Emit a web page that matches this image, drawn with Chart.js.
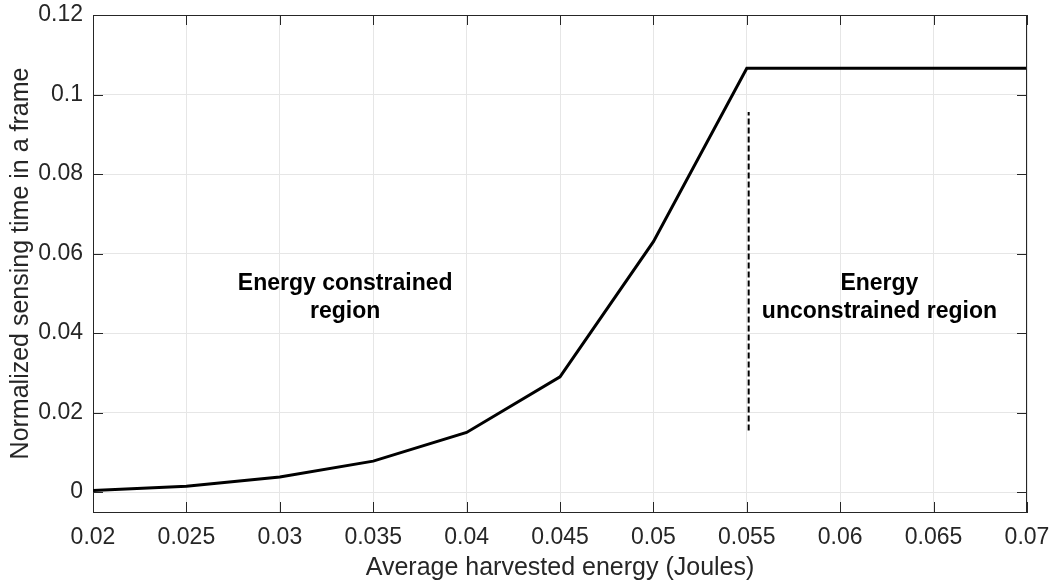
<!DOCTYPE html>
<html>
<head>
<meta charset="utf-8">
<script src="https://cdn.jsdelivr.net/npm/chart.js@4/dist/chart.umd.min.js"></script>
<style>
  html, body { margin: 0; padding: 0; background: #fff; }
  #wrap { width: 1057px; height: 588px; }
</style>
</head>
<body>
<div id="wrap"><canvas id="chart" width="1057" height="588"></canvas></div>
<script>
// data
const energy = [0.02, 0.025, 0.03, 0.035, 0.04, 0.045, 0.05, 0.055, 0.07];
const sensingTime = [0.0004, 0.0015, 0.0038, 0.0078, 0.015, 0.029, 0.063, 0.1066, 0.1066];
const boundaryX = [0.0551, 0.0551];
const boundaryY = [0.0155, 0.0956];
const xTicks = [0.02, 0.025, 0.03, 0.035, 0.04, 0.045, 0.05, 0.055, 0.06, 0.065, 0.07];
const xTickLabels = ["0.02", "0.025", "0.03", "0.035", "0.04", "0.045", "0.05", "0.055", "0.06", "0.065", "0.07"];
const yTicks = [0, 0.02, 0.04, 0.06, 0.08, 0.1, 0.12];
const yTickLabels = ["0", "0.02", "0.04", "0.06", "0.08", "0.1", "0.12"];
const regionLabels = [
  { x: 0.0335, y: 0.0525, lines: ["Energy constrained", "region"] },
  { x: 0.0621, y: 0.0525, lines: ["Energy", "unconstrained region"] },
];

const AXIS = "#262626";
const FONT = "'Liberation Sans', Arial, sans-serif";

// box + inward ticks + region text, MATLAB-like
const boxPlugin = {
  id: "box",
  afterDatasetsDraw(chart) {
    const { ctx, chartArea: a, scales } = chart;
    const xs = scales.x, ys = scales.y;
    ctx.save();
    ctx.strokeStyle = AXIS;
    ctx.lineWidth = 1;
    ctx.beginPath();
    ctx.moveTo(a.left + 0.5, a.top + 0.5);
    ctx.lineTo(a.right - 0.5, a.top + 0.5);
    ctx.lineTo(a.right - 0.5, a.bottom);
    ctx.stroke();
    const tl = 10;
    ctx.beginPath();
    xTicks.forEach(v => {
      const px = Math.round(xs.getPixelForValue(v)) + 0.5;
      ctx.moveTo(px, a.bottom); ctx.lineTo(px, a.bottom - tl);
      ctx.moveTo(px, a.top); ctx.lineTo(px, a.top + tl);
    });
    yTicks.forEach(v => {
      const py = Math.round(ys.getPixelForValue(v)) + 0.5;
      ctx.moveTo(a.left, py); ctx.lineTo(a.left + tl, py);
      ctx.moveTo(a.right, py); ctx.lineTo(a.right - tl, py);
    });
    ctx.stroke();

    ctx.fillStyle = "#000";
    ctx.font = "bold 23px " + FONT;
    ctx.textAlign = "center";
    ctx.textBaseline = "middle";
    regionLabels.forEach(r => {
      const px = xs.getPixelForValue(r.x);
      const py = ys.getPixelForValue(r.y);
      r.lines.forEach((t, i) => ctx.fillText(t, px, py + i * 28));
    });
    ctx.restore();
  }
};

new Chart(document.getElementById("chart"), {
  type: "line",
  data: {
    datasets: [
      {
        data: energy.map((x, i) => ({ x, y: sensingTime[i] })),
        borderColor: "#000",
        borderWidth: 3,
        pointRadius: 0,
        tension: 0,
      },
      {
        data: boundaryX.map((x, i) => ({ x, y: boundaryY[i] })),
        borderColor: "#000",
        borderWidth: 2,
        borderDash: [6, 3],
        pointRadius: 0,
      },
    ],
  },
  options: {
    responsive: false,
    animation: false,
    layout: { padding: { left: 0, right: 30, top: 15, bottom: 0 } },
    plugins: { legend: { display: false }, tooltip: { enabled: false } },
    scales: {
      x: {
        type: "linear",
        min: 0.02,
        max: 0.07,
        afterBuildTicks: s => { s.ticks = xTicks.map(value => ({ value })); },
        afterFit: s => { s.height = 76; s.paddingLeft = 0; s.paddingRight = 0; },
        ticks: {
          callback: (v, i) => xTickLabels[i],
          color: AXIS,
          font: { family: FONT, size: 23 },
          padding: 12,
          maxRotation: 0,
          autoSkip: false,
        },
        grid: { color: "#e6e6e6", drawTicks: false },
        border: { color: AXIS, width: 1 },
        title: {
          display: true,
          text: "Average harvested energy (Joules)",
          color: AXIS,
          font: { family: FONT, size: 25 },
          padding: { top: 0, bottom: 5 },
        },
      },
      y: {
        type: "linear",
        min: -0.005,
        max: 0.12,
        afterBuildTicks: s => { s.ticks = yTicks.map(value => ({ value })); },
        afterFit: s => { s.width = 93; s.paddingTop = 0; s.paddingBottom = 0; },
        ticks: {
          callback: (v, i) => yTickLabels[i],
          color: AXIS,
          font: { family: FONT, size: 23 },
          padding: 10,
          autoSkip: false,
        },
        grid: { color: "#e6e6e6", drawTicks: false },
        border: { color: AXIS, width: 1 },
        title: {
          display: true,
          text: "Normalized sensing time in a frame",
          color: AXIS,
          font: { family: FONT, size: 25 },
          padding: { top: 6, bottom: 0 },
        },
      },
    },
  },
  plugins: [boxPlugin],
});
</script>
</body>
</html>
